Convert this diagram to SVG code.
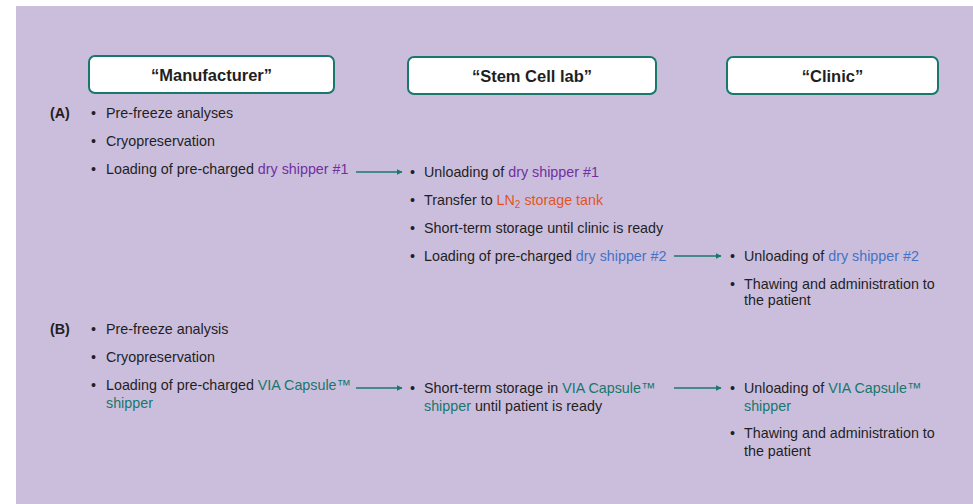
<svg xmlns="http://www.w3.org/2000/svg" width="973" height="504" viewBox="0 0 973 504">
<defs>
<style>
text{font-family:"Liberation Sans",Arial,sans-serif;font-size:14.3px;fill:#1f1f1f}
.h{font-weight:bold;font-size:16.5px;text-anchor:middle}
.lbl{font-weight:bold}
.box{fill:#fff;stroke:#18786b;stroke-width:2}
.p{fill:#7030a0}.o{fill:#e0561e}.b{fill:#4472c4}.t{fill:#17776a}
.con{stroke:#18786b;stroke-width:1.5;fill:none}
</style>
<marker id="ah" viewBox="0 0 10 10" refX="9" refY="5" markerWidth="6" markerHeight="6" markerUnits="userSpaceOnUse" orient="auto"><path d="M0,0L10,5L0,10z" fill="#18786b"/></marker>
</defs>
<rect x="16" y="6" width="957" height="498" fill="#cbbedd"/>
<g id="manufacturer"><rect class="box" x="89" y="56" width="245" height="37" rx="6"/><text class="h" x="211.5" y="80.5">“Manufacturer”</text></g>
<g id="stemcell"><rect class="box" x="408" y="57" width="248" height="37" rx="6"/><text class="h" x="532" y="81.5">“Stem Cell lab”</text></g>
<g id="clinic"><rect class="box" x="727" y="57" width="211" height="37" rx="6"/><text class="h" x="832.5" y="81.5">“Clinic”</text></g>
<g id="labels"><text class="lbl" x="50" y="118">(A)</text><text class="lbl" x="50" y="334">(B)</text></g>
<g id="a-manufacturer">
<text x="91" y="118">•</text><text x="106" y="118">Pre-freeze analyses</text>
<text x="91" y="146">•</text><text x="106" y="146">Cryopreservation</text>
<text x="91" y="174">•</text><text x="106" y="174">Loading of pre-charged <tspan class="p">dry shipper #1</tspan></text>
</g>
<g id="a-stemcell">
<text x="410" y="177">•</text><text x="424" y="177">Unloading of <tspan class="p">dry shipper #1</tspan></text>
<text x="410" y="205">•</text><text x="424" y="205">Transfer to <tspan class="o">LN</tspan><tspan class="o" font-size="10" dy="3">2</tspan><tspan class="o" dy="-3"> storage tank</tspan></text>
<text x="410" y="233">•</text><text x="424" y="233">Short-term storage until clinic is ready</text>
<text x="410" y="261">•</text><text x="424" y="261">Loading of pre-charged <tspan class="b">dry shipper #2</tspan></text>
</g>
<g id="a-clinic">
<text x="730" y="261">•</text><text x="744" y="261">Unloading of <tspan class="b">dry shipper #2</tspan></text>
<text x="730" y="289">•</text><text x="744" y="289">Thawing and administration to</text><text x="744" y="305">the patient</text>
</g>
<g id="b-manufacturer">
<text x="91" y="334">•</text><text x="106" y="334">Pre-freeze analysis</text>
<text x="91" y="362">•</text><text x="106" y="362">Cryopreservation</text>
<text x="91" y="390">•</text><text x="106" y="390">Loading of pre-charged <tspan class="t">VIA Capsule™</tspan></text><text class="t" x="106" y="408">shipper</text>
</g>
<g id="b-stemcell">
<text x="410" y="393">•</text><text x="424" y="393">Short-term storage in <tspan class="t">VIA Capsule™</tspan></text><text x="424" y="411"><tspan class="t">shipper</tspan> until patient is ready</text>
</g>
<g id="b-clinic">
<text x="730" y="393">•</text><text x="744" y="393">Unloading of <tspan class="t">VIA Capsule™</tspan></text><text class="t" x="744" y="411">shipper</text>
<text x="730" y="438">•</text><text x="744" y="438">Thawing and administration to</text><text x="744" y="456">the patient</text>
</g>
<g id="connectors">
<line class="con" x1="356" y1="172" x2="402" y2="172" marker-end="url(#ah)"/>
<line class="con" x1="674" y1="256" x2="721" y2="256" marker-end="url(#ah)"/>
<line class="con" x1="356" y1="388" x2="402" y2="388" marker-end="url(#ah)"/>
<line class="con" x1="674" y1="388" x2="721" y2="388" marker-end="url(#ah)"/>
</g>
</svg>
